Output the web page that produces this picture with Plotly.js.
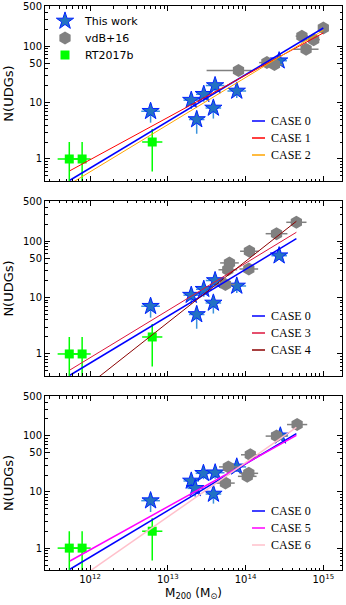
<!DOCTYPE html>
<html>
<head>
<meta charset="utf-8">
<script src="https://cdn.plot.ly/plotly-3.0.1.min.js"></script>
<style>body{margin:0;} #plot{width:346px;height:605px;}</style>
</head>
<body>
<div id="plot"></div>
<script>
// RT2017b (same in every panel)
const rtMass = [5.4e11, 7.9e11, 6.3e12];
const rtN = [1, 1, 2];
const rtNErr = [1, 1, 1.4];
const rtMassErrDex = [0.15, 0.11, 0.13];

// This work, panels 1 and 2
const twMass = [6.0e12, 2.0e13, 2.35e13, 2.9e13, 3.85e13, 4.05e13, 7.7e13, 2.7e14];
const twN = [7, 11, 5, 14, 8, 20, 16, 55];
const twNErr = [2.6, 3.3, 2.2, 3.7, 2.8, 4.5, 4, 7.4];
const twMassErrDex = [0.12, 0.1, 0.1, 0.1, 0.1, 0.12, 0.12, 0.1];
// This work, panel 3
const twMass3 = [6.0e12, 2.0e13, 2.25e13, 2.87e13, 3.86e13, 4.06e13, 7.7e13, 2.8e14];
const twN3 = [7, 15.7, 11.6, 21.5, 9.2, 22, 28, 100];
const twNErr3 = [2.6, 4, 3.4, 4.6, 3, 4.7, 5.3, 10];

// vdB+16
const vdbMass1 = [8.1e13, 1.88e14, 2.35e14, 5.3e14, 6.0e14, 7.5e14, 1.0e15];
const vdbN1 = [37, 51, 47, 150, 88, 130, 210];
const vdbErrMinusDex1 = [0.41, 0.1, 0.1, 0.08, 0.16, 0.08, 0.06];
const vdbErrPlusDex1 = [0.17, 0.1, 0.1, 0.08, 0.16, 0.08, 0.06];
const vdbMass2 = [5.5e13, 5.9e13, 6.2e13, 1.1e14, 1.12e14, 2.5e14, 4.5e14];
const vdbN2 = [17, 31, 41, 32, 66, 135, 215];
const vdbMass3 = [5.5e13, 6.0e13, 1.05e14, 1.1e14, 1.15e14, 2.5e14, 4.6e14];
const vdbN3 = [14.4, 28, 19, 21.5, 46, 99, 159];
const vdbErrDex = [0.12, 0.12, 0.12, 0.12, 0.12, 0.14, 0.13];

// fitted relations (end points)
const lineMass1 = [5.5e11, 1.0e15];
const case0a = [0.42, 209];
const case1 = [0.62, 171];
const case2 = [0.36, 190];
const lineMass2 = [5.5e11, 4.5e14];
const case0b = [0.42, 110];
const case3 = [0.52, 143];
const case4 = [0.155, 224];
const case5 = [0.59, 102];
const case6 = [0.22, 142];

const xTickVals = [1e12, 1e13, 1e14, 1e15];
const xTickText = ['10<sup>12</sup>', '10<sup>13</sup>', '10<sup>14</sup>', '10<sup>15</sup>'];
const yTickVals = [1, 10, 50, 100, 500];
const yTickText = ['1', '10', '50', '100', '500'];

function plusErr(m, d) { return m.map((v, i) => v * (Math.pow(10, d[i]) - 1)); }
function minusErr(m, d) { return m.map((v, i) => v * (1 - Math.pow(10, -d[i]))); }

let minorX = [];
for (let e = 11; e <= 15; e++) for (let k = 2; k <= 9; k++) minorX.push(k * Math.pow(10, e));
let minorY = [];
for (let e = -1; e <= 2; e++) for (let k = 2; k <= 9; k++) minorY.push(k * Math.pow(10, e));

const starBlue = '#2272c3';
const starErr = '#3b93dc';

function markerTraces(ax, ay, tm, tn, tne, vm, vn, vminus, vplus, show) {
    return [
        {
            x: rtMass, y: rtN, xaxis: ax, yaxis: ay, type: 'scatter', mode: 'markers',
            name: 'RT2017b', showlegend: show, legend: 'legend3',
            marker: {symbol: 'square', size: 9, color: '#00ff00'},
            error_y: {type: 'data', array: rtNErr, color: '#00ff00', thickness: 1.5, width: 0},
            error_x: {type: 'data', array: plusErr(rtMass, rtMassErrDex), arrayminus: minusErr(rtMass, rtMassErrDex), color: '#00ff00', thickness: 1.5, width: 0}
        },
        {
            x: tm, y: tn, xaxis: ax, yaxis: ay, type: 'scatter', mode: 'markers',
            name: 'This work', showlegend: show, legend: 'legend',
            marker: {symbol: 'star', size: 13, color: starBlue, line: {color: '#0022ff', width: 1}},
            error_y: {type: 'data', array: tne, color: starErr, thickness: 1.5, width: 0},
            error_x: {type: 'data', array: plusErr(tm, twMassErrDex), arrayminus: minusErr(tm, twMassErrDex), color: starErr, thickness: 1.5, width: 0}
        },
        {
            x: vm, y: vn, xaxis: ax, yaxis: ay, type: 'scatter', mode: 'markers',
            name: 'vdB+16', showlegend: show, legend: 'legend2',
            marker: {symbol: 'hexagon', size: 13, color: '#808080'},
            error_x: {type: 'data', array: plusErr(vm, vplus), arrayminus: minusErr(vm, vminus), color: '#808080', thickness: 1.5, width: 0}
        }
    ];
}

function lineTrace(ax, ay, xs, ys, name, color, width) {
    return {
        x: xs, y: ys, xaxis: ax, yaxis: ay, type: 'scatter', mode: 'lines',
        name: name, showlegend: false, line: {color: color, width: width}
    };
}

let data = [];
data = data.concat(markerTraces('x', 'y', twMass, twN, twNErr, vdbMass1, vdbN1, vdbErrMinusDex1, vdbErrPlusDex1, true));
data = data.concat(markerTraces('x2', 'y2', twMass, twN, twNErr, vdbMass2, vdbN2, vdbErrDex, vdbErrDex, false));
data = data.concat(markerTraces('x3', 'y3', twMass3, twN3, twNErr3, vdbMass3, vdbN3, vdbErrDex, vdbErrDex, false));

const panelLines = [
    {ax: 'x', ay: 'y', xs: lineMass1, cases: [['CASE 0', case0a, '#0000ff', 1.5], ['CASE 1', case1, '#ff0000', 1], ['CASE 2', case2, '#ffa500', 1]]},
    {ax: 'x2', ay: 'y2', xs: lineMass2, cases: [['CASE 0', case0b, '#0000ff', 1.5], ['CASE 3', case3, '#dc143c', 1], ['CASE 4', case4, '#8b0000', 1]]},
    {ax: 'x3', ay: 'y3', xs: lineMass2, cases: [['CASE 0', case0b, '#0000ff', 1.5], ['CASE 5', case5, '#ff00ff', 1.5], ['CASE 6', case6, '#ffc0cb', 1.5]]}
];

// small legend in the lower right of each panel
const keyTop = [121, 316, 511];   // pixel rows of first entry
const keyStep = 17;
let shapes = [];
let annotations = [];
const px2x = (p) => (p - 45) / 297;
const px2y = (p) => (570 - p) / 564;

panelLines.forEach((p, i) => {
    p.cases.forEach((c, j) => {
        data.push(lineTrace(p.ax, p.ay, p.xs, c[1], c[0], c[2], c[3]));
        const row = keyTop[i] + j * keyStep;
        shapes.push({
            type: 'line', xref: 'paper', yref: 'paper',
            x0: px2x(252), x1: px2x(265), y0: px2y(row), y1: px2y(row),
            line: {color: c[2], width: 1.5}
        });
        annotations.push({
            xref: 'paper', yref: 'paper', x: px2x(269), y: px2y(row),
            xanchor: 'left', yanchor: 'middle', showarrow: false, text: c[0],
            font: {family: 'Liberation Serif', size: 12, color: 'black'}
        });
    });
});

const tickFont = {family: 'DejaVu Sans', size: 10, color: 'black'};

function xAxis(anchor, showLabels) {
    return {
        type: 'log', range: [11.42, 15.24], domain: [0, 1], anchor: anchor,
        showline: true, mirror: 'allticks', linecolor: 'black', linewidth: 1,
        ticks: 'inside', ticklen: 5, tickcolor: 'black', tickwidth: 1,
        tickmode: 'array', tickvals: xTickVals, ticktext: xTickText,
        showticklabels: showLabels, tickfont: tickFont,
        showgrid: false, zeroline: false,
        minor: {tickmode: 'array', tickvals: minorX, ticks: 'inside', ticklen: 2.5, tickcolor: 'black', showgrid: false}
    };
}

function yAxis(anchor, domain) {
    return {
        type: 'log', range: [-0.39, 2.71], domain: domain, anchor: anchor,
        showline: true, mirror: 'allticks', linecolor: 'black', linewidth: 1,
        ticks: 'inside', ticklen: 5, tickcolor: 'black', tickwidth: 1,
        tickmode: 'array', tickvals: yTickVals, ticktext: yTickText, tickfont: tickFont,
        showgrid: false, zeroline: false,
        title: {text: 'N(UDGs)', font: {family: 'DejaVu Sans', size: 13, color: 'black'}, standoff: 6},
        minor: {tickmode: 'array', tickvals: minorY, ticks: 'inside', ticklen: 2.5, tickcolor: 'black', showgrid: false}
    };
}

// one legend box per entry so the rows sit 17 px apart as in the figure
const markerLegend = (row) => ({
    x: 0.0, y: px2y(row), xanchor: 'left', yanchor: 'middle', bgcolor: 'rgba(0,0,0,0)',
    font: {family: 'DejaVu Sans', size: 11, color: 'black'}
});

let xa3 = xAxis('y3', true);
xa3.title = {text: 'M<sub>200</sub> (M<sub>⊙</sub>)', font: {family: 'DejaVu Sans', size: 12, color: 'black'}, standoff: 4};

let layout = {
    width: 346, height: 605,
    margin: {l: 45, r: 4, t: 6, b: 35},
    paper_bgcolor: 'white', plot_bgcolor: 'white',
    xaxis: xAxis('y', false),
    xaxis2: xAxis('y2', false),
    xaxis3: xa3,
    yaxis: yAxis('x', [0.6897, 1]),
    yaxis2: yAxis('x2', [0.344, 0.6543]),
    yaxis3: yAxis('x3', [0, 0.3085]),
    legend: markerLegend(21),
    legend2: markerLegend(38),
    legend3: markerLegend(55),
    shapes: shapes,
    annotations: annotations,
    showlegend: true
};

Plotly.newPlot('plot', data, layout, {displayModeBar: false, staticPlot: true});
</script>
</body>
</html>
